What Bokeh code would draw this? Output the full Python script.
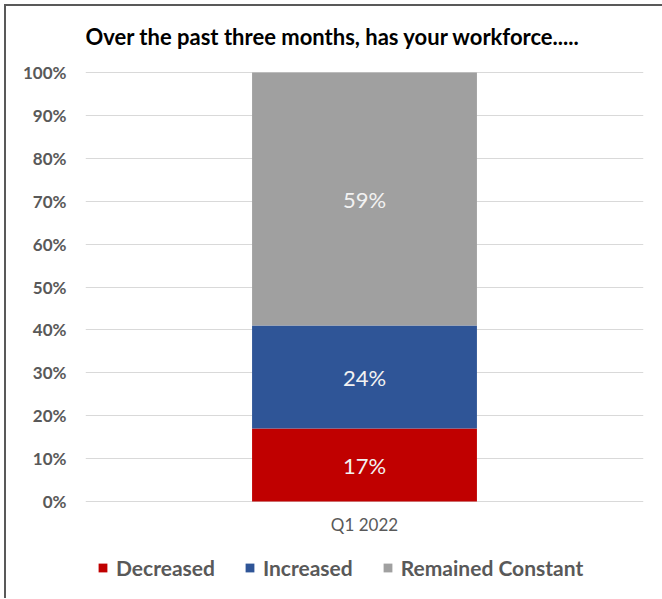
from bokeh.plotting import figure
from bokeh.models import (ColumnDataSource, FactorRange, Range1d, Legend, LegendItem,
                          NumeralTickFormatter, FixedTicker, LabelSet, Label)
from bokeh.core.properties import value
from bokeh.embed import file_html
from bokeh.resources import INLINE

# ---- data ----
categories = ["Q1 2022"]
series = ["Decreased", "Increased", "Remained Constant"]
decreased = [17]
increased = [24]
remained = [59]
colors = ["#c00000", "#2f5597", "#a0a0a0"]
title_text = "Over the past three months, has your workforce....."
y_ticks = [0, 10, 20, 30, 40, 50, 60, 70, 80, 90, 100]

FONT = "Lato"

# layout geometry (pixels): plot frame spans the whole height; 0..100 occupies 429 px
PX_PER_UNIT = 4.29
FRAME_H = 592
Y_TOP = 100 + 66 / PX_PER_UNIT
Y_BOTTOM = -(FRAME_H - 66 - 429) / PX_PER_UNIT

src = ColumnDataSource(dict(cat=categories, Decreased=decreased,
                            Increased=increased, **{"Remained Constant": remained}))

p = figure(x_range=FactorRange(*categories, range_padding=0), y_range=Range1d(Y_BOTTOM, Y_TOP),
           width=670, height=FRAME_H, frame_width=558, frame_height=FRAME_H,
           min_border_left=79, min_border_top=0, min_border_right=33, min_border_bottom=0,
           output_backend="svg", toolbar_location=None, tools="")
p.styles = {"margin-left": "4px", "margin-top": "4px",
            "border-left": "2px solid #595959", "border-top": "2px solid #595959"}
p.outline_line_color = None
p.background_fill_color = "white"
p.xaxis.visible = False

rs = p.vbar_stack(series, x="cat", width=0.403, color=colors, line_color=None, source=src)

# segment labels
bottoms = [0, decreased[0], decreased[0] + increased[0]]
vals = [decreased[0], increased[0], remained[0]]
lab_src = ColumnDataSource(dict(x=[categories[0]] * 3,
                                y=[b + v / 2 for b, v in zip(bottoms, vals)],
                                t=[f"{v}%" for v in vals]))
p.add_layout(LabelSet(x="x", y="y", text="t", source=lab_src, text_align="center",
                      text_baseline="middle", text_color="#f2f2f2", text_font_size="22px",
                      text_font=value(FONT)))

# category label (x axis)
cat_src = ColumnDataSource(dict(x=categories, y=[-23 / PX_PER_UNIT] * len(categories), t=categories))
p.add_layout(LabelSet(x="x", y="y", text="t", source=cat_src, text_align="center",
                      text_baseline="middle", text_color="#595959", text_font_size="17px",
                      text_font=value(FONT)))

# title
p.add_layout(Label(x=0, y=100 + 36 / PX_PER_UNIT, text=title_text, text_font=FONT,
                   text_font_style="bold", text_font_size="22px", text_color="black",
                   text_baseline="middle", text_align="left"))

# y axis
p.yaxis.ticker = FixedTicker(ticks=y_ticks)
p.yaxis.formatter = NumeralTickFormatter(format="0")
p.yaxis.major_label_overrides = {t: f"{t}%" for t in y_ticks}
p.yaxis.axis_line_color = None
p.yaxis.major_tick_line_color = None
p.yaxis.minor_tick_line_color = None
p.yaxis.major_label_text_font = FONT
p.yaxis.major_label_text_font_style = "bold"
p.yaxis.major_label_text_font_size = "17px"
p.yaxis.major_label_text_color = "#595959"
p.yaxis.major_label_standoff = 13

p.xgrid.grid_line_color = None
p.ygrid.grid_line_color = "#d9d9d9"
p.ygrid.grid_line_width = 1

# legend
items = [LegendItem(label=s, renderers=[r]) for s, r in zip(series, rs)]
leg = Legend(items=items, location=(12, 18), orientation="horizontal",
             border_line_color=None, background_fill_alpha=0, padding=0, margin=0,
             spacing=29, label_standoff=8, glyph_width=11, glyph_height=11,
             label_text_font=FONT, label_text_font_style="bold", label_text_font_size="21px",
             label_text_color="#595959")
p.add_layout(leg, "center")

html = file_html(p, INLINE)
html = html.replace("<body>", "<body style=\"margin:0;overflow:hidden\">", 1)
open("out.html", "w").write(html)
